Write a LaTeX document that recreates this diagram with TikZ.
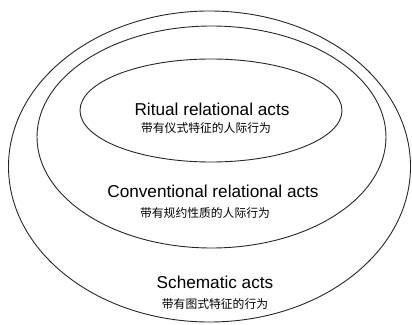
\documentclass[tikz,border=0pt]{standalone}
\usepackage{fontspec}
\setmainfont{Liberation Sans}
\newfontfamily\cjk{Noto Sans CJK SC}
\begin{document}
\begin{tikzpicture}[x=1pt,y=1pt,
  ring/.style={draw=black!85,line width=0.9pt},
  entitle/.style={anchor=base,inner sep=0pt,font=\fontsize{17.2}{18}\selectfont},
  zhtitle/.style={anchor=center,inner sep=0pt,font=\cjk\fontsize{11.8}{12}\selectfont}]
\useasboundingbox (0,0) rectangle (412,324);
\draw[ring] (209.5,157.5) ellipse [x radius=201, y radius=155.5];
\draw[ring] (211.5,187) ellipse [x radius=174.5, y radius=111];
\draw[ring] (211,213.5) ellipse [x radius=131, y radius=51.5];
\node[entitle] (ritual) at (212,208) {Ritual relational acts};
\node[zhtitle] (ritualzh) at (206,195.5) {带有仪式特征的人际行为};
\node[entitle] (conv) at (213,126) {Conventional relational acts};
\node[zhtitle] (convzh) at (205,111) {带有规约性质的人际行为};
\node[entitle] (schem) at (215,35.5) {Schematic acts};
\node[zhtitle] (schemzh) at (215,20) {带有图式特征的行为};
\end{tikzpicture}
\end{document}
